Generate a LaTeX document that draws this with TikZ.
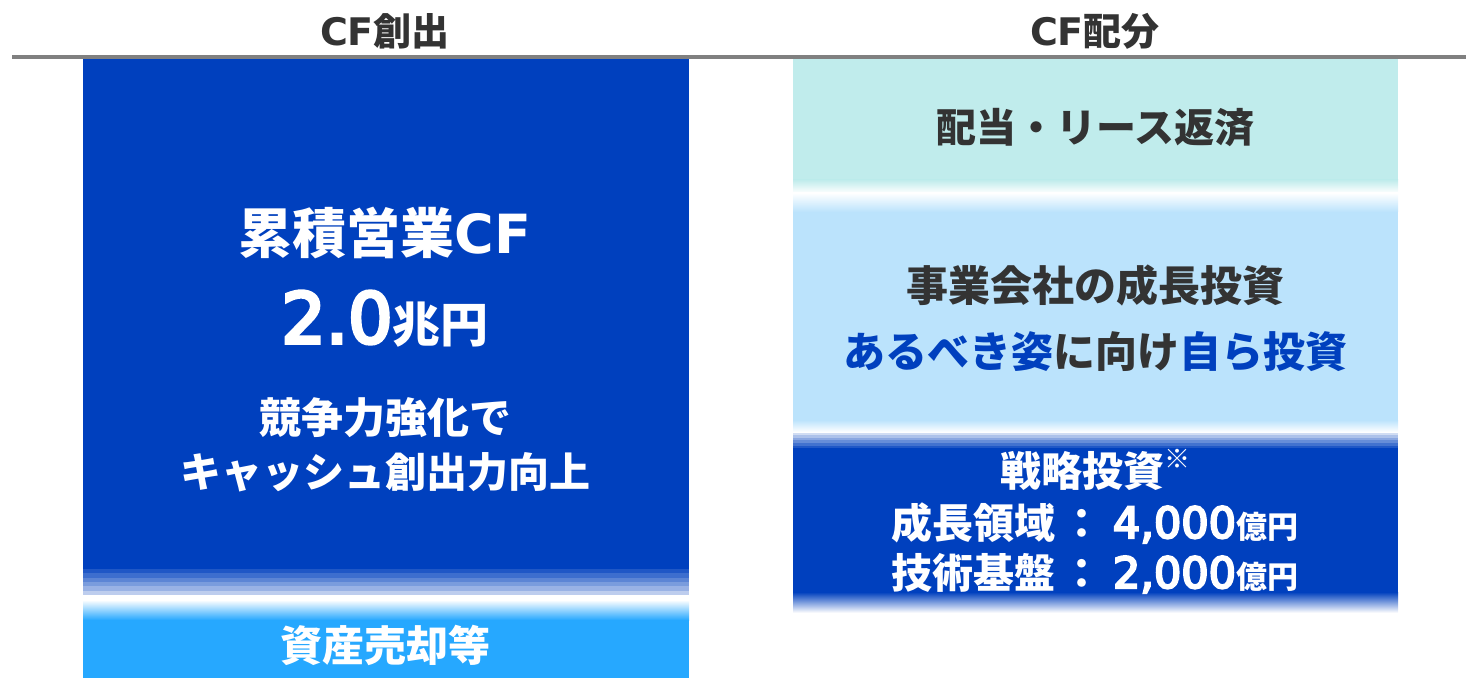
\documentclass[tikz,border=0pt]{standalone}
\usepackage{fontspec}
\setmainfont{Noto Sans CJK JP}
\newfontfamily\lat{DejaVu Sans}[BoldFont={DejaVu Sans},BoldFeatures={FakeBold=5}]
\newfontfamily\latb{DejaVu Sans Bold}
\definecolor{dblue}{RGB}{0,64,190}
\definecolor{lblue}{RGB}{38,168,255}
\definecolor{tealbox}{RGB}{192,236,236}
\definecolor{skyb}{RGB}{187,227,252}
\definecolor{txtg}{RGB}{51,51,51}
\definecolor{lineg}{RGB}{128,128,128}
\newcommand{\fs}[1]{\fontsize{#1}{#1}\selectfont}
\newcommand{\ltx}[1]{{\lat\bfseries #1}}
\newcommand{\ltb}[1]{{\latb #1}}
\begin{document}
\begin{tikzpicture}[x=0.5pt,y=-0.5pt,
  lbl/.style={inner sep=0pt, font=\bfseries, align=center},
  wlbl/.style={lbl, text=white},
  glbl/.style={lbl, text=txtg}]
\useasboundingbox (0,0) rectangle (1466,678);
% header line
\fill[lineg] (12,55) rectangle (1466,59);
\node[glbl, font=\bfseries\fs{19}] (t1) at (385,31) {\ltb{CF}創出};
\node[glbl, font=\bfseries\fs{19}] (t2) at (1095,31) {\ltb{CF}配分};
% left column
\fill[dblue] (83,59) rectangle (689,569);
\foreach \i/\c in {0/88,1/76,2/64,3/52,4/40,5/26}{
  \fill[dblue!\c!white] (83,{569+\i*4.33}) rectangle (689,{569+(\i+1)*4.33+0.3});
}
\shade[top color=white,bottom color=lblue] (83,600) rectangle (689,620);
\fill[lblue] (83,620) rectangle (689,678);
% right column
\fill[tealbox] (793,59) rectangle (1398,180);
\shade[top color=tealbox,bottom color=white] (793,180) rectangle (1398,193);
\shade[top color=white,bottom color=skyb] (793,193) rectangle (1398,212);
\fill[skyb] (793,212) rectangle (1398,420);
\shade[top color=skyb,bottom color=white] (793,420) rectangle (1398,432);
\foreach \i/\c in {0/18,1/32,2/46,3/60,4/74,5/88}{
  \fill[dblue!\c!white] (793,{432.5+\i*2.6}) rectangle (1398,{432.5+(\i+1)*2.6+0.3});
}
\fill[dblue] (793,448) rectangle (1398,592);
\shade[top color=dblue,bottom color=dblue!4!white] (793,592) rectangle (1398,612);
% left texts
\node[wlbl, font=\bfseries\fs{27}] (cum) at (385,233) {累積営業\ltb{CF}};
\node[wlbl, anchor=base] (amt) at (385,343) {{\fs{35}\ltx{2.0}}{\fs{24}兆円}};
\node[wlbl, font=\bfseries\fs{21}] (comp1) at (385,418) {競争力強化で};
\node[wlbl, font=\bfseries\fs{20.5}] (comp2) at (385,472) {キャッシュ創出力向上};
\node[wlbl, font=\bfseries\fs{21}] (sale) at (385,645) {資産売却等};
% right texts
\node[glbl, font=\bfseries\fs{20}] (div) at (1095,128) {配当・リース返済};
\node[glbl, font=\bfseries\fs{21}] (grow1) at (1095,285) {事業会社の成長投資};
\node[glbl, font=\bfseries\fs{21}] (grow2) at (1095,352) {{\color{dblue}あるべき姿}に向け{\color{dblue}自ら投資}};
\node[wlbl, font=\bfseries\fs{20.5}] (strat) at (1095,470) {戦略投資\raisebox{0.42em}{\fs{13}※}};
\node[wlbl, anchor=base] (s1) at (1095,538) {{\fs{20.5}成長領域\kern3pt：\kern5pt{\fs{21.5}\ltx{4,000}}}{\fs{15.5}億円}};
\node[wlbl, anchor=base] (s2) at (1095,588) {{\fs{20.5}技術基盤\kern3pt：\kern5pt{\fs{21.5}\ltx{2,000}}}{\fs{15.5}億円}};
\end{tikzpicture}
\end{document}
